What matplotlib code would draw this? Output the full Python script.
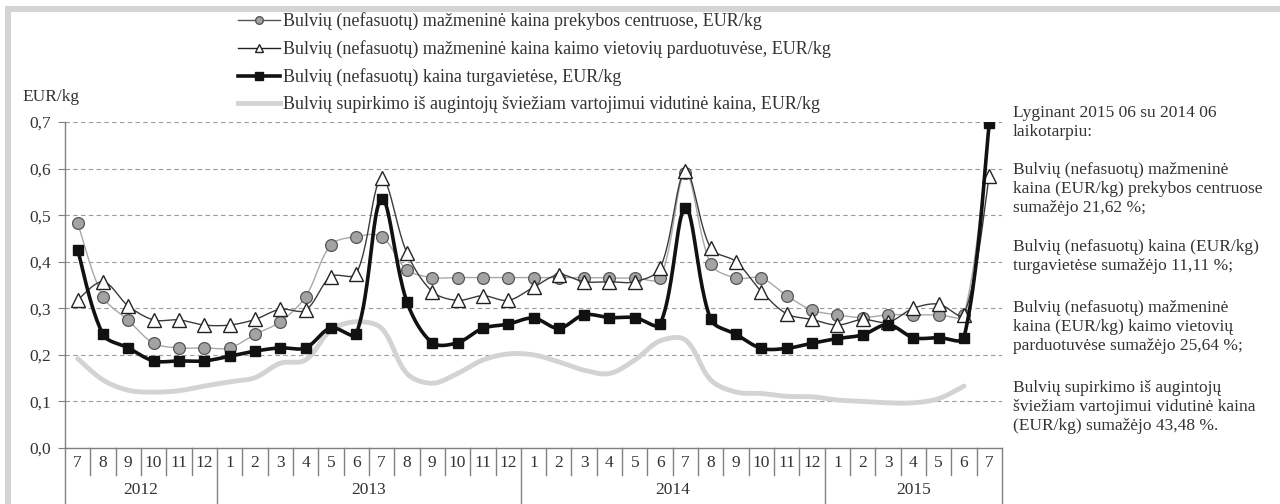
import matplotlib
matplotlib.use('Agg')
import matplotlib.pyplot as plt
import numpy as np
from matplotlib.lines import Line2D
from matplotlib.patches import Rectangle

plt.rcParams['font.family'] = ['Liberation Serif', 'DejaVu Serif']

# months 2012-07 .. 2015-07
months = [7, 8, 9, 10, 11, 12,
          1, 2, 3, 4, 5, 6, 7, 8, 9, 10, 11, 12,
          1, 2, 3, 4, 5, 6, 7, 8, 9, 10, 11, 12,
          1, 2, 3, 4, 5, 6, 7]
years = ['2012', '2013', '2014', '2015']
year_len = [6, 12, 12, 7]

# EUR/kg
centruose = [0.483, 0.325, 0.274, 0.225, 0.215, 0.215,
             0.215, 0.244, 0.271, 0.325, 0.436, 0.454, 0.454, 0.383, 0.366, 0.366, 0.366, 0.366,
             0.366, 0.366, 0.366, 0.365, 0.365, 0.365, 0.590, 0.395, 0.365, 0.365, 0.327, 0.296,
             0.286, 0.280, 0.286, 0.286, 0.286, 0.286, 0.700]
kaimo = [0.318, 0.357, 0.305, 0.275, 0.275, 0.264,
         0.264, 0.276, 0.298, 0.296, 0.368, 0.374, 0.579, 0.419, 0.336, 0.317, 0.327, 0.317,
         0.345, 0.372, 0.357, 0.357, 0.357, 0.386, 0.594, 0.429, 0.400, 0.336, 0.288, 0.276,
         0.264, 0.276, 0.270, 0.300, 0.309, 0.286, 0.585]
turgavietese = [0.426, 0.244, 0.215, 0.187, 0.187, 0.187,
                0.197, 0.208, 0.215, 0.215, 0.258, 0.245, 0.535, 0.314, 0.226, 0.226, 0.257, 0.266,
                0.279, 0.257, 0.286, 0.280, 0.280, 0.266, 0.515, 0.276, 0.244, 0.214, 0.214, 0.225,
                0.235, 0.243, 0.265, 0.237, 0.237, 0.237, 0.698]
supirkimo = [0.192, 0.146, 0.124, 0.120, 0.123, 0.133,
             0.142, 0.151, 0.182, 0.189, 0.253, 0.271, 0.257, 0.160, 0.139, 0.160, 0.189, 0.202,
             0.200, 0.185, 0.167, 0.160, 0.189, 0.230, 0.232, 0.146, 0.120, 0.117, 0.111, 0.110,
             0.103, 0.100, 0.097, 0.097, 0.106, 0.133]

legend_labels = ['Bulvių (nefasuotų) mažmeninė kaina prekybos centruose, EUR/kg',
                 'Bulvių (nefasuotų) mažmeninė kaina kaimo vietovių parduotuvėse, EUR/kg',
                 'Bulvių (nefasuotų) kaina turgavietėse, EUR/kg',
                 'Bulvių supirkimo iš augintojų šviežiam vartojimui vidutinė kaina, EUR/kg']

notes = ['Lyginant 2015 06 su 2014 06\nlaikotarpiu:',
         'Bulvių (nefasuotų) mažmeninė\nkaina (EUR/kg) prekybos centruose\nsumažėjo 21,62 %;',
         'Bulvių (nefasuotų) kaina (EUR/kg)\nturgavietėse sumažėjo 11,11 %;',
         'Bulvių (nefasuotų) mažmeninė\nkaina (EUR/kg) kaimo vietovių\nparduotuvėse sumažėjo 25,64 %;',
         'Bulvių supirkimo iš augintojų\nšviežiam vartojimui vidutinė kaina\n(EUR/kg) sumažėjo 43,48 %.']
note_y = [113, 170, 247, 308, 388]

W, H = 1280, 504
YPX = 464.0 / 25.3   # pixels per y unit / pixels per category


def smooth(x, y, n=24):
    # Excel-like smoothed line: bezier segments, control arms scaled by segment lengths
    x = np.asarray(x, float)
    y = np.asarray(y, float)
    m = len(x)
    seg = np.hypot(np.diff(x), np.diff(y) * YPX)
    xs, ys = [], []
    for i in range(m - 1):
        a = max(i - 1, 0)
        d = min(i + 2, m - 1)
        d01 = seg[i - 1] if i > 0 else seg[i]
        d12 = seg[i]
        d23 = seg[i + 1] if i + 1 < m - 1 else seg[i]
        k1 = d12 / (d01 + d12) / 3
        k2 = d12 / (d12 + d23) / 3
        c1 = (x[i] + (x[i+1] - x[a]) * k1, y[i] + (y[i+1] - y[a]) * k1)
        c2 = (x[i+1] - (x[d] - x[i]) * k2, y[i+1] - (y[d] - y[i]) * k2)
        t = np.linspace(0, 1, n, endpoint=(i == m - 2))
        b0 = (1-t)**3; b1 = 3*(1-t)**2*t; b2 = 3*(1-t)*t**2; b3 = t**3
        xs.append(b0*x[i] + b1*c1[0] + b2*c2[0] + b3*x[i+1])
        ys.append(b0*y[i] + b1*c1[1] + b2*c2[1] + b3*y[i+1])
    return np.concatenate(xs), np.concatenate(ys)


fig = plt.figure(figsize=(12.8, 5.04), dpi=100)
fig.patch.set_facecolor('white')

# grey frame at top / left
fig.add_artist(Rectangle((5/W, 1 - 12/H), 1, 6/H, transform=fig.transFigure,
                         color='#d4d4d4', lw=0))
fig.add_artist(Rectangle((5/W, 0), 6/W, 1 - 6/H, transform=fig.transFigure,
                         color='#d4d4d4', lw=0))

ax = fig.add_axes([65/W, 1 - 448/H, (1002 - 65)/W, (448 - 122)/H])
x = np.arange(len(months))

gx, gy = smooth(x[:len(supirkimo)], supirkimo)
ax.plot(gx, gy, color='#d3d3d3', lw=3.5, solid_capstyle='round', zorder=2)

cx, cy = smooth(x, centruose)
ax.plot(cx, cy, color='#a8a8a8', lw=1.0, zorder=3)
ax.plot(x[:-1], centruose[:-1], 'o', ms=8.5, mfc='#a3a3a3', mec='#555555', mew=0.9, zorder=3)

kx, ky = smooth(x, kaimo)
ax.plot(kx, ky, color='#3a3a3a', lw=1.0, zorder=4)
ax.plot(x, kaimo, '^', ms=9.5, mfc='white', mec='#222222', mew=1.0, zorder=4)

tx, ty = smooth(x, turgavietese)
ax.plot(tx, ty, color='#111111', lw=2.6, zorder=5)
ax.plot(x, turgavietese, 's', ms=6.5, mfc='#111111', mec='#111111', zorder=5)

ax.set_xlim(-0.5, len(months) - 0.5)
ax.set_ylim(0, 0.7)
yt = np.arange(0, 0.71, 0.1)
ax.set_yticks(yt)
ax.set_yticklabels([('%.1f' % v).replace('.', ',') for v in yt])
ax.yaxis.grid(True, color='#9a9a9a', ls=(0, (4, 3)), lw=0.8)
ax.set_axisbelow(True)
ax.tick_params(axis='y', length=5, width=0.8, color='#808080', labelsize=12.5,
               labelcolor='#333333', pad=5)

ax.set_xticks(x)
ax.set_xticklabels([str(m) for m in months])
ax.tick_params(axis='x', length=0, pad=5, labelsize=12.5, labelcolor='#333333')

for s in ['top', 'right']:
    ax.spines[s].set_visible(False)
for s in ['left', 'bottom']:
    ax.spines[s].set_color('#808080')
    ax.spines[s].set_linewidth(1.0)

# category separators below the axis
trans = ax.get_xaxis_transform()
bounds = np.cumsum([0] + year_len) - 0.5
for b in np.arange(-0.5, len(months), 1.0):
    if b in bounds:
        ax.plot([b, b], [0, -0.17], transform=trans, color='#808080', lw=1.0, clip_on=False)
    else:
        ax.plot([b, b], [0, -0.083], transform=trans, color='#808080', lw=1.0, clip_on=False)
for i, yr in enumerate(years):
    ax.text((bounds[i] + bounds[i+1]) / 2, -0.13, yr, transform=trans, ha='center',
            va='center', fontsize=12.5, color='#333333')

fig.text(22/W, 1 - 97/H, 'EUR/kg', fontsize=12.5, color='#333333', va='center')

handles = [Line2D([], [], color='#555555', lw=1.0, marker='o', ms=5.5, mfc='#a3a3a3', mec='#555555'),
           Line2D([], [], color='#222222', lw=1.0, marker='^', ms=6, mfc='white', mec='#222222'),
           Line2D([], [], color='#111111', lw=2.6, marker='s', ms=5.5, mfc='#111111'),
           Line2D([], [], color='#d3d3d3', lw=3.5)]
fig.legend(handles, legend_labels, loc='upper left', bbox_to_anchor=(222/W, 1 + 4/H),
           frameon=False, fontsize=13, handlelength=2.3, handletextpad=0.2,
           labelspacing=0.55, labelcolor='#333333')

for txt, yy in zip(notes, note_y):
    fig.text(1013/W, 1 - (yy - 8)/H, txt, fontsize=12.5, color='#333333', va='top',
             linespacing=1.25)

fig.savefig('out.png', dpi=100)
